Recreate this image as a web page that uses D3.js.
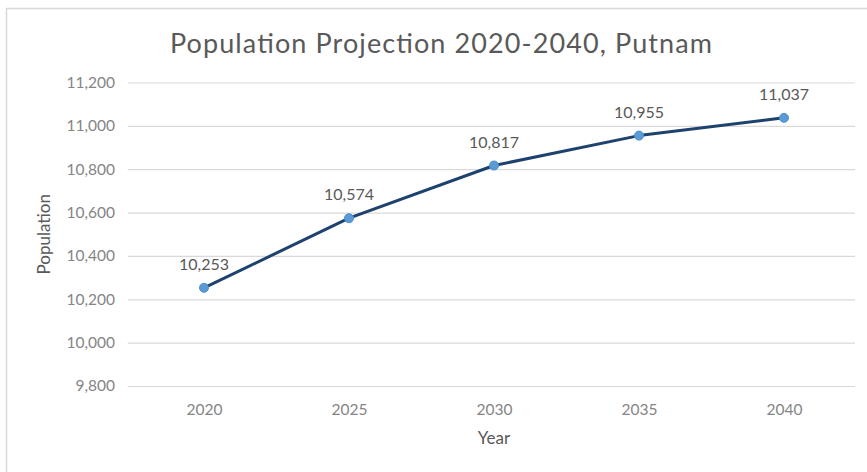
<!DOCTYPE html>
<html>
<head>
<meta charset="utf-8">
<script src="https://cdn.jsdelivr.net/npm/d3@7"></script>
<style>
  html, body { margin: 0; padding: 0; background: #fff; }
  svg { display: block; }
  text { font-family: "Lato", "Open Sans", sans-serif; }
</style>
</head>
<body>
<svg id="chart" width="867" height="472"></svg>
<script>
// Projected population of Putnam, 2020-2040
const years = ["2020", "2025", "2030", "2035", "2040"];
const population = [10253, 10574, 10817, 10955, 11037];
const yTicks = [9800, 10000, 10200, 10400, 10600, 10800, 11000, 11200];
const chartTitle = "Population Projection 2020-2040, Putnam";
const xTitle = "Year";
const yTitle = "Population";

const svg = d3.select("#chart");
const W = 867, H = 472;
const plot = { left: 128, right: 855, top: 82.5, bottom: 386 };

// chart frame (top and left edges visible)
svg.append("rect")
  .attr("x", 6.5).attr("y", 8.5)
  .attr("width", W + 10).attr("height", H + 10)
  .attr("fill", "#fff").attr("stroke", "#d9d9d9").attr("stroke-width", 1.5);

const x = d3.scalePoint().domain(years).range([131.5, 856.5]).padding(0.5);
const y = d3.scaleLinear().domain([9800, 11200]).range([plot.bottom, plot.top]);

// horizontal gridlines + y tick labels
const yAxis = d3.axisLeft(y)
  .tickValues(yTicks)
  .tickSize(-(plot.right - plot.left))
  .tickPadding(13)
  .tickFormat(d3.format(","));
const gy = svg.append("g").attr("transform", `translate(${plot.left},0)`).call(yAxis);
gy.select(".domain").remove();
gy.selectAll(".tick line").attr("stroke", "#d9d9d9").attr("stroke-width", 1.2);
gy.selectAll(".tick text")
  .attr("fill", "#858585").attr("font-size", 15.5)
  .attr("font-family", "Lato, sans-serif");

// x tick labels
const xAxis = d3.axisBottom(x).tickSize(0).tickPadding(18);
const gx = svg.append("g").attr("transform", `translate(0,${plot.bottom})`).call(xAxis);
gx.select(".domain").remove();
gx.selectAll(".tick text")
  .attr("fill", "#858585").attr("font-size", 15.5)
  .attr("font-family", "Lato, sans-serif");

// series line
const line = d3.line()
  .x((d, i) => x(years[i]))
  .y(d => y(d));
svg.append("path")
  .datum(population)
  .attr("d", line)
  .attr("fill", "none")
  .attr("stroke", "#1d426e")
  .attr("stroke-width", 3)
  .attr("stroke-linejoin", "round")
  .attr("stroke-linecap", "round");

// markers
svg.selectAll("circle.pt")
  .data(population)
  .join("circle")
  .attr("class", "pt")
  .attr("cx", (d, i) => x(years[i]))
  .attr("cy", d => y(d))
  .attr("r", 4.5)
  .attr("fill", "#5b9bd5")
  .attr("stroke", "#4f8fcb").attr("stroke-width", 1);

// data labels
svg.selectAll("text.val")
  .data(population)
  .join("text")
  .attr("class", "val")
  .attr("x", (d, i) => x(years[i]))
  .attr("y", d => y(d) - 18)
  .attr("text-anchor", "middle")
  .attr("fill", "#595959")
  .attr("font-size", 16)
  .text(d => d3.format(",")(d));

// title
svg.append("text")
  .attr("x", 441).attr("y", 53)
  .attr("text-anchor", "middle")
  .attr("fill", "#595959")
  .attr("font-size", 27)
  .attr("textLength", 542).attr("lengthAdjust", "spacing")
  .text(chartTitle);

// axis titles
svg.append("text")
  .attr("x", 494).attr("y", 444)
  .attr("text-anchor", "middle")
  .attr("fill", "#595959").attr("font-size", 17)
  .text(xTitle);

svg.append("text")
  .attr("transform", `translate(50,${(plot.top + plot.bottom) / 2}) rotate(-90)`)
  .attr("text-anchor", "middle")
  .attr("fill", "#595959").attr("font-size", 17)
  .text(yTitle);
</script>
</body>
</html>
